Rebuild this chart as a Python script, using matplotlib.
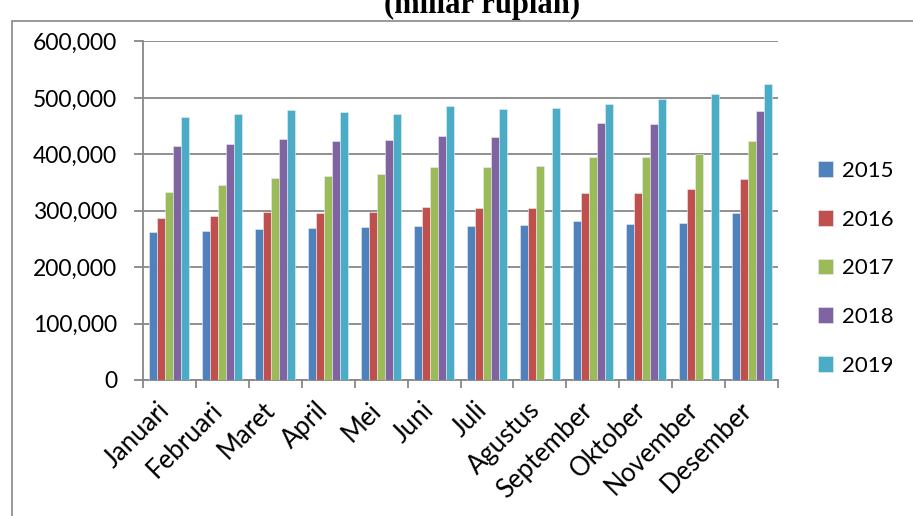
import numpy as np
import matplotlib
matplotlib.use("Agg")
import matplotlib.pyplot as plt
import matplotlib.transforms as mtransforms
from matplotlib.patches import Rectangle
from matplotlib.ticker import FuncFormatter

months = ["Januari", "Februari", "Maret", "April", "Mei", "Juni", "Juli",
          "Agustus", "September", "Oktober", "November", "Desember"]
years = ["2015", "2016", "2017", "2018", "2019"]

v2015 = [262600, 264400, 267400, 268600, 271500, 272700, 272100, 273900, 281000, 276300, 278000, 295700]
v2016 = [286900, 289900, 297000, 295200, 297000, 305800, 305200, 304600, 331100, 330600, 338800, 356500]
v2017 = [333500, 345900, 358900, 362400, 366000, 377800, 378400, 379000, 394900, 394900, 400800, 423800]
v2018 = [413900, 417900, 428000, 423800, 425000, 432600, 430900, np.nan, 456300, 453900, np.nan, 476900]
v2019 = [465700, 472200, 479300, 475100, 472200, 486400, 480500, 482300, 489900, 498800, 507700, 524200]

colors = ["#4F81BD", "#C0504D", "#9BBB59", "#8064A2", "#4BACC6"]
grid_col = "#878787"

plt.rcParams["font.family"] = ["Lato", "DejaVu Sans"]

fig = plt.figure(figsize=(9.13, 5.16), dpi=100)
ax = fig.add_axes([143 / 913, 1 - 380 / 516, (778 - 143) / 913, (380 - 41.5) / 516])

x = np.arange(len(months))
w = 0.151
series = [v2015, v2016, v2017, v2018, v2019]
for i, (vals, c, yr) in enumerate(zip(series, colors, years)):
    ax.bar(x + (i - 2) * w, vals, width=w, color=c, label=yr,
           edgecolor="#e8eef5", linewidth=0.4, zorder=3)

ax.set_xlim(-0.5, len(months) - 0.5)
ax.set_ylim(0, 600000)
ax.set_yticks(np.arange(0, 600001, 100000))
ax.yaxis.set_major_formatter(FuncFormatter(lambda v, p: f"{int(v):,}"))
ax.yaxis.grid(True, color=grid_col, linewidth=1.3, zorder=0)
ax.set_axisbelow(True)

# category boundaries carry the tick marks, names sit in between
ax.set_xticks(np.arange(-0.5, len(months)), labels=[])
ax.set_xticks(x, labels=months, minor=True)
ax.tick_params(axis="x", which="major", length=6, width=1.3, color=grid_col, direction="out")
ax.tick_params(axis="x", which="minor", length=0, pad=11, labelsize=18.5)
ax.tick_params(axis="y", length=6.5, width=1.3, color=grid_col, pad=12, labelsize=16.5)
shift = mtransforms.ScaledTranslation(-4 / 100, -11 / 100, fig.dpi_scale_trans)
for lbl in ax.get_xticklabels(minor=True):
    lbl.set_rotation(45)
    lbl.set_rotation_mode("anchor")
    lbl.set_ha("right")
    lbl.set_va("center")
    lbl.set_transform(lbl.get_transform() + shift)

for s in ["top", "right"]:
    ax.spines[s].set_visible(False)
for s in ["left", "bottom"]:
    ax.spines[s].set_color(grid_col)
    ax.spines[s].set_linewidth(1.3)

ax.legend(loc="center left", bbox_to_anchor=(1.045, 0.33), frameon=False,
          fontsize=16, handlelength=0.7, handleheight=0.7, handletextpad=0.4,
          labelspacing=1.29, borderpad=0)

# outer chart border and the cut-off title
fig.patches.append(Rectangle((12 / 913, -0.1), 1.2, 1 - 21 / 516 + 0.1,
                             transform=fig.transFigure, fill=False,
                             edgecolor=grid_col, linewidth=1.2))
fig.text(482 / 913, 1 - 13 / 516, "(miliar rupiah)", ha="center", va="baseline",
         fontsize=22, fontweight="bold", family="Liberation Serif")

fig.savefig("out.png", dpi=100)
